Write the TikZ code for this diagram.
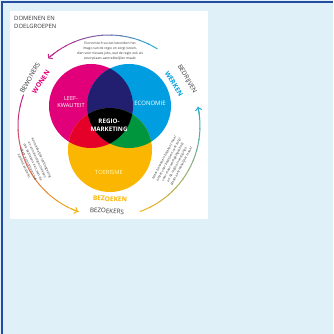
\documentclass[tikz,border=0pt]{standalone}
\usepackage{fontspec}
\setmainfont{Open Sans}
\usepackage{tikz}
\usetikzlibrary{calc}
\usetikzlibrary{arrows.meta}
\definecolor{panelbg}{RGB}{223,240,248}
\definecolor{panelline}{RGB}{35,75,160}
\definecolor{labelgray}{RGB}{55,55,60}
\definecolor{magV}{RGB}{226,0,122}
\definecolor{blueV}{RGB}{0,158,224}
\definecolor{yellowV}{RGB}{250,182,0}
\definecolor{navyV}{RGB}{34,30,112}
\definecolor{redV}{RGB}{228,0,40}
\definecolor{greenV}{RGB}{0,150,62}
\definecolor{magArc}{RGB}{196,40,140}
\definecolor{cyanArc}{RGB}{45,172,205}
\definecolor{yellowArc}{RGB}{242,178,30}
\newcommand{\tinytext}{\fontsize{3.3}{4.8}\selectfont}

\begin{document}
\begin{tikzpicture}[x=1pt, y=1pt,
    arcline/.style={line width=1pt, line cap=round},
    arctip/.style={-{Straight Barb[length=2.6pt,width=6.5pt]}},
    venntext/.style={text=white, align=center, inner sep=0pt},
    ringtext/.style={text=labelgray, inner sep=0pt, font=\fontsize{6.3}{7}\selectfont},
    ringbold/.style={inner sep=0pt, font=\fontsize{6.6}{7}\selectfont\bfseries},
    note/.style={text=labelgray, align=center, inner sep=0pt, font=\tinytext}]
  \useasboundingbox (0,0) rectangle (333,334);
  \fill[panelbg] (0,0) rectangle (333,334);
  \draw[panelline, line width=2pt] (2,0) -- (2,332) -- (333,332);
  \fill[white] (10,115) rectangle (208,323);

  \coordinate (mc) at (91,228);
  \coordinate (bc) at (129,228);
  \coordinate (yc) at (110,184);
  \coordinate (C) at (109,208);

  % the three domains
  \fill[magV] (mc) circle[radius=42];
  \fill[blueV] (bc) circle[radius=42];
  \fill[yellowV] (yc) circle[radius=42];
  \begin{scope}
    \clip (mc) circle[radius=42];
    \fill[navyV] (bc) circle[radius=42];
    \fill[redV] (yc) circle[radius=42];
  \end{scope}
  \begin{scope}
    \clip (bc) circle[radius=42];
    \fill[greenV] (yc) circle[radius=42];
  \end{scope}
  \begin{scope}
    \clip (mc) circle[radius=42];
    \clip (bc) circle[radius=42];
    \fill[black] (yc) circle[radius=42];
  \end{scope}

  \draw (71,232) node[venntext, font=\fontsize{5.6}{6.8}\selectfont] (leef) {LEEF-\\KWALITEIT};
  \draw (150,231) node[venntext, font=\fontsize{6}{7}\selectfont] (eco) {ECONOMIE};
  \draw (109,209) node[venntext, font=\fontsize{6.2}{7.6}\selectfont\bfseries] (regio) {REGIO-\\MARKETING};
  \draw (109,162) node[venntext, text=yellow!25, font=\fontsize{5.8}{7}\selectfont] (toer) {TOERISME};

  % ring of arrows
  \foreach \i in {0,...,11} {
    \pgfmathtruncatemacro{\p}{100*\i/11}
    \draw[arcline, draw=magArc!\p!cyanArc] (C) ++(58+\i*6:91)
      arc[start angle=58+\i*6, end angle=64.5+\i*6, radius=91];
    \draw[arcline, draw=yellowArc!\p!magArc] (C) ++(160+\i*7.5:91)
      arc[start angle=160+\i*7.5, end angle=168+\i*7.5, radius=91];
    \draw[arcline, draw=cyanArc!\p!yellowArc] (C) ++(290+\i*6.8:91)
      arc[start angle=290+\i*6.8, end angle=297.3+\i*6.8, radius=91];
  }
  \draw[arcline, arctip, magArc] (C) ++(127:91) arc[start angle=127, end angle=132, radius=91];
  \draw[arcline, arctip, yellowArc] (C) ++(245:91) arc[start angle=245, end angle=250, radius=91];
  \draw[arcline, arctip, cyanArc] (C) ++(367:91) arc[start angle=367, end angle=372, radius=91];

  \draw (14,318) node[anchor=north west, text=labelgray, align=left, inner sep=0pt,
    font=\fontsize{5.9}{8.5}\selectfont] (title) {DOMEINEN EN\\DOELGROEPEN};
  \draw (110,283) node[note] (top) {Economisch succes bevordert het\\
    imago van de regio en zorgt boven-\\
    dien voor nieuwe jobs, wat de regio ook als\\
    woonplaats aantrekkelijker maakt};

  \draw (30,256) node[ringtext, rotate=60] (bew) {BEWONERS};
  \draw (41,252) node[ringbold, text=magV, rotate=56] (wonen) {WONEN};
  \draw (187,255) node[ringtext, rotate=-60] (bedr) {BEDRIJVEN};
  \draw (174,250) node[ringbold, text=blueV, rotate=-58] (werken) {WERKEN};
  \draw (110,135) node[ringbold, text=yellowV, rotate=-3] (bezoeken) {BEZOEKEN};
  \draw (107,123) node[ringtext, rotate=-4] (bezoekers) {BEZOEKERS};

  \draw (33,172) node[note, rotate=-65] (left) {Aantrekkelijke leefomgeving\\
    en voorzieningen trekken\\ook bezoekers aan, wat de\\
    lokale economie en het\\aanbod versterkt};
  \draw (173,172) node[note, rotate=62] (right) {Meer bezoekers betekent meer\\
    omzet voor bedrijven, wat zorgt\\voor meer werkgelegenheid\\
    en de regio als vestigings-\\plaats aantrekkelijker maakt};
\end{tikzpicture}
\end{document}
